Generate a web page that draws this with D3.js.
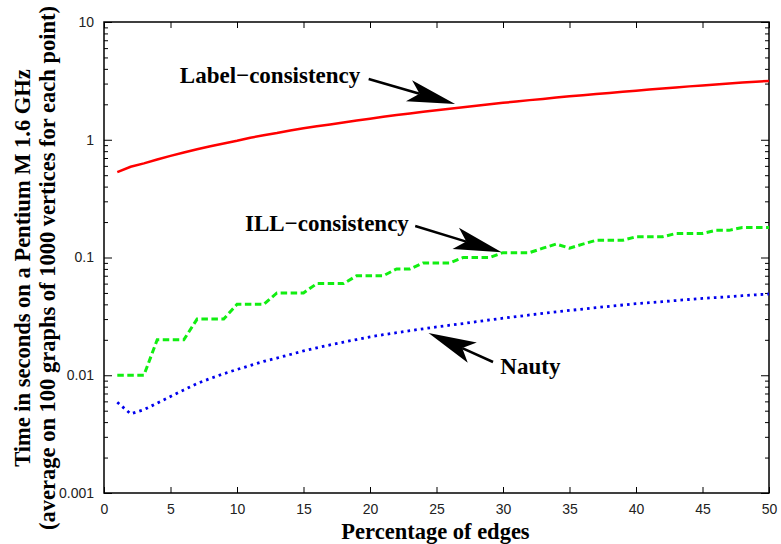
<!DOCTYPE html>
<html>
<head>
<meta charset="utf-8">
<script src="https://cdn.jsdelivr.net/npm/d3@7"></script>
<style>
  body { margin: 0; background: #fff; }
  .tick text { font-family: "Liberation Sans", Arial, sans-serif; font-size: 14px; fill: #222; }
  .tick line { stroke: #000; stroke-width: 1; }
  .title { font-family: "Liberation Serif", "Times New Roman", serif; font-weight: bold; font-size: 22.5px; fill: #000; }
  .note { font-family: "Liberation Serif", "Times New Roman", serif; font-weight: bold; font-size: 23px; fill: #000; }
</style>
</head>
<body>
<div id="chart"></div>
<script>
// ------------------------- data -------------------------
var edgePct = d3.range(1, 51);   // 1 .. 50 %

var labelTimes = [0.53, 0.59, 0.63, 0.68, 0.73, 0.78, 0.83, 0.88, 0.93, 0.98,
                  1.04, 1.09, 1.14, 1.20, 1.25, 1.30, 1.35, 1.40, 1.46, 1.51,
                  1.57, 1.62, 1.67, 1.73, 1.78, 1.83, 1.89, 1.94, 2.00, 2.06,
                  2.11, 2.17, 2.22, 2.28, 2.34, 2.39, 2.45, 2.50, 2.56, 2.61,
                  2.67, 2.72, 2.78, 2.84, 2.89, 2.95, 3.00, 3.06, 3.11, 3.16];

var illTimes = [0.01, 0.01, 0.01, 0.02, 0.02, 0.02, 0.03, 0.03, 0.03, 0.04,
                0.04, 0.04, 0.05, 0.05, 0.05, 0.06, 0.06, 0.06, 0.07, 0.07,
                0.07, 0.08, 0.08, 0.09, 0.09, 0.09, 0.10, 0.10, 0.10, 0.11,
                0.11, 0.11, 0.12, 0.13, 0.12, 0.13, 0.14, 0.14, 0.14, 0.15,
                0.15, 0.15, 0.16, 0.16, 0.16, 0.17, 0.17, 0.18, 0.18, 0.18];

var nautyTimes = [0.0059, 0.0047, 0.0051, 0.0058, 0.0066, 0.0075, 0.0085, 0.0094, 0.0103, 0.0112,
                  0.0121, 0.0131, 0.0140, 0.0150, 0.0161, 0.0171, 0.0181, 0.0191, 0.0201, 0.0212,
                  0.0221, 0.0230, 0.0239, 0.0248, 0.0257, 0.0266, 0.0275, 0.0285, 0.0295, 0.0305,
                  0.0315, 0.0325, 0.0335, 0.0345, 0.0355, 0.0365, 0.0375, 0.0385, 0.0395, 0.0405,
                  0.0413, 0.0422, 0.0431, 0.0440, 0.0449, 0.0457, 0.0465, 0.0474, 0.0482, 0.0490];

var xTicks = [0, 5, 10, 15, 20, 25, 30, 35, 40, 45, 50];
var yTicks = [0.001, 0.01, 0.1, 1, 10];
var yTickLabels = ["0.001", "0.01", "0.1", "1", "10"];

// annotations: text anchor + arrow tail/tip, in data units
var notes = [
  {text: "Label\u2212consistency", tx: 5.7,  ty: 3.05,  x1: 19.9, y1: 3.28,  x2: 26.4, y2: 2.01},
  {text: "ILL\u2212consistency",   tx: 10.6, ty: 0.168, x1: 23.4, y1: 0.185, x2: 29.9, y2: 0.1106},
  {text: "Nauty",                  tx: 29.8, ty: 0.0102, x1: 29.25, y1: 0.01296, x2: 24.4, y2: 0.0229}
];

// ------------------------- setup -------------------------
var W = 781, H = 544;
var margin = {top: 22, right: 12, bottom: 51, left: 104};
var width = W - margin.left - margin.right;
var height = H - margin.top - margin.bottom;

var svg = d3.select("#chart").append("svg")
  .attr("width", W)
  .attr("height", H);

var g = svg.append("g")
  .attr("transform", "translate(" + margin.left + "," + margin.top + ")");

var x = d3.scaleLinear().domain([0, 50]).range([0, width]);
var y = d3.scaleLog().domain([0.001, 10]).range([height, 0]);

// minor log ticks
var minorTicks = [];
yTicks.slice(0, -1).forEach(function(d) {
  for (var k = 2; k <= 9; k++) minorTicks.push(d * k);
});

//------------------------- axes -------------------------
g.append("g")
  .attr("transform", "translate(0," + height + ")")
  .call(d3.axisBottom(x).tickValues(xTicks).tickSizeInner(-6).tickSizeOuter(0).tickPadding(11))
  .call(function(s) { s.select(".domain").remove(); });

g.append("g")
  .call(d3.axisTop(x).tickValues(xTicks).tickSizeInner(-6).tickSizeOuter(0).tickFormat(""))
  .call(function(s) { s.select(".domain").remove(); });

g.append("g")
  .call(d3.axisLeft(y).tickValues(yTicks).tickSizeInner(-8).tickSizeOuter(0).tickPadding(10)
    .tickFormat(function(d, i) { return yTickLabels[i]; }))
  .call(function(s) { s.select(".domain").remove(); });

g.append("g")
  .call(d3.axisLeft(y).tickValues(minorTicks).tickSizeInner(-4).tickSizeOuter(0).tickFormat(""))
  .call(function(s) { s.select(".domain").remove(); });

g.append("g")
  .attr("transform", "translate(" + width + ",0)")
  .call(d3.axisRight(y).tickValues(yTicks).tickSizeInner(-8).tickSizeOuter(0).tickFormat(""))
  .call(function(s) { s.select(".domain").remove(); });

g.append("g")
  .attr("transform", "translate(" + width + ",0)")
  .call(d3.axisRight(y).tickValues(minorTicks).tickSizeInner(-4).tickSizeOuter(0).tickFormat(""))
  .call(function(s) { s.select(".domain").remove(); });

// frame
g.append("rect")
  .attr("width", width)
  .attr("height", height)
  .attr("fill", "none")
  .attr("stroke", "#000")
  .attr("stroke-width", 1.5);

//------------------------- lines -------------------------
var line = d3.line()
  .x(function(d) { return x(d[0]); })
  .y(function(d) { return y(d[1]); });

function series(vals) { return edgePct.map(function(p, i) { return [p, vals[i]]; }); }

g.append("path")
  .datum(series(labelTimes))
  .attr("d", line)
  .attr("fill", "none")
  .attr("stroke", "#ff0000")
  .attr("stroke-width", 2.5);

g.append("path")
  .datum(series(illTimes))
  .attr("d", line)
  .attr("fill", "none")
  .attr("stroke", "#11ee11")
  .attr("stroke-width", 3)
  .attr("stroke-dasharray", "6.5,3.5");

g.append("path")
  .datum(series(nautyTimes))
  .attr("d", line)
  .attr("fill", "none")
  .attr("stroke", "#0000ee")
  .attr("stroke-width", 2.8)
  .attr("stroke-dasharray", "2.6,4.1");

//------------------------- annotations -------------------------
notes.forEach(function(n) {
  var ax = x(n.x1), ay = y(n.y1), bx = x(n.x2), by = y(n.y2);
  var ang = Math.atan2(by - ay, bx - ax);
  var headLen = 48, halfW = 11, notch = 37;
  // shaft
  g.append("line")
    .attr("x1", ax).attr("y1", ay)
    .attr("x2", bx - Math.cos(ang) * notch).attr("y2", by - Math.sin(ang) * notch)
    .attr("stroke", "#000")
    .attr("stroke-width", 2.5);
  // notched head
  var pts = [[0, 0], [-headLen, -halfW], [-notch, 0], [-headLen, halfW]];
  g.append("path")
    .attr("d", "M" + pts.map(function(p) { return p.join(","); }).join("L") + "Z")
    .attr("transform", "translate(" + bx + "," + by + ") rotate(" + (ang * 180 / Math.PI) + ")")
    .attr("fill", "#000");
  g.append("text")
    .attr("class", "note")
    .attr("x", x(n.tx))
    .attr("y", y(n.ty))
    .text(n.text);
});

//------------------------- titles -------------------------
svg.append("text")
  .attr("class", "title")
  .attr("text-anchor", "middle")
  .attr("x", margin.left + x(25) - 1)
  .attr("y", 539)
  .text("Percentage of edges");

svg.append("text")
  .attr("class", "title")
  .attr("text-anchor", "middle")
  .attr("transform", "translate(30,268) rotate(-90)")
  .text("Time in seconds on a Pentium M 1.6 GHz");

svg.append("text")
  .attr("class", "title")
  .attr("text-anchor", "middle")
  .attr("transform", "translate(55,268) rotate(-90)")
  .text("(average on 100 graphs of 1000 vertices for each point)");
</script>
</body>
</html>
